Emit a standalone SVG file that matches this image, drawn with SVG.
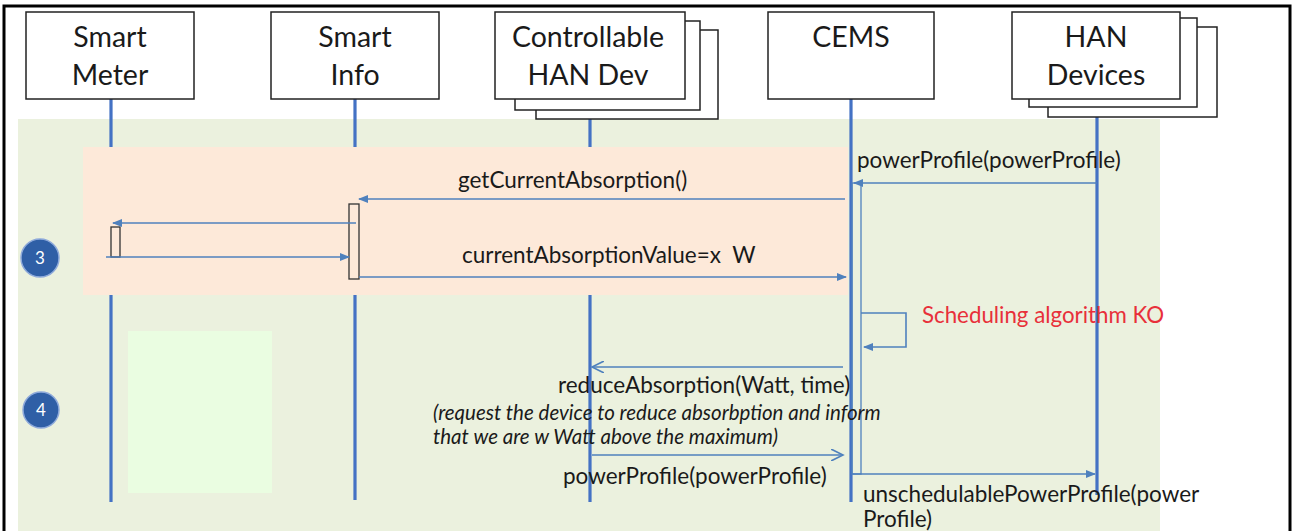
<svg xmlns="http://www.w3.org/2000/svg" width="1294" height="531" viewBox="0 0 1294 531">
<style>
.box{fill:#fff;stroke:#222;stroke-width:1.5}
.hd{font-family:Lato,"Open Sans",sans-serif;font-size:28.5px;fill:#1a1a1a;text-anchor:middle}
.life{stroke:#4472c4;stroke-width:3.2;fill:none}
.msg{stroke:#4f81bd;stroke-width:1.6;fill:none}
.lbl{font-family:Lato,"Open Sans",sans-serif;font-size:22.5px;fill:#1a1a1a}
.red{font-family:Lato,"Open Sans",sans-serif;font-size:22.3px;fill:#e8303a}
.it{font-family:Lato,"Open Sans",sans-serif;font-size:20.5px;font-style:italic;fill:#1a1a1a}
.act{fill:#fde9d9;stroke:#333;stroke-width:1.3}
.num{font-family:Lato,"Open Sans",sans-serif;font-size:17px;fill:#fff;text-anchor:middle}
.circ{fill:#2f5fa6;stroke:#8eaadb;stroke-width:1.5}
</style>
<defs>
<marker id="fa" markerUnits="userSpaceOnUse" markerWidth="10" markerHeight="8" refX="9" refY="4" orient="auto">
<path d="M0,0 L10,4 L0,8 z" fill="#4f81bd"/>
</marker>
<marker id="oa" markerUnits="userSpaceOnUse" markerWidth="14" markerHeight="12" refX="12" refY="6" orient="auto">
<path d="M0,0 L12,6 L0,12" fill="none" stroke="#4f81bd" stroke-width="1.6"/>
</marker>
</defs>
<rect x="0" y="0" width="1294" height="531" fill="#fff"/>
<rect x="18" y="119" width="1142" height="412" fill="#ebf1de"/>
<rect x="128" y="331" width="144" height="162" fill="#eafde1"/>
<path d="M4,531 V6 H1290 V531" fill="none" stroke="#000" stroke-width="3"/>

<g id="lifelines">
<line class="life" x1="111" y1="99" x2="111" y2="502"/>
<line class="life" x1="355" y1="99" x2="355" y2="500"/>
<line class="life" x1="590" y1="119" x2="590" y2="502"/>
<line class="life" x1="851" y1="99" x2="851" y2="502"/>
<line class="life" x1="1097" y1="107" x2="1097" y2="495"/>
</g>
<rect x="83" y="147" width="765" height="148" fill="#fde9d9"/>

<g id="smart-meter">
<rect class="box" x="26" y="12" width="168" height="87"/>
<text class="hd" x="110" y="47">Smart</text>
<text class="hd" x="110" y="85">Meter</text>
</g>
<g id="smart-info">
<rect class="box" x="271" y="12" width="168" height="87"/>
<text class="hd" x="355" y="47">Smart</text>
<text class="hd" x="355" y="85">Info</text>
</g>
<g id="controllable-han-dev">
<rect class="box" x="536" y="30" width="182" height="89"/>
<rect class="box" x="515" y="21" width="185" height="89"/>
<rect class="box" x="495" y="12" width="190" height="87"/>
<text class="hd" x="588" y="47">Controllable</text>
<text class="hd" x="588" y="85">HAN Dev</text>
</g>
<g id="cems">
<rect class="box" x="768" y="12" width="166" height="87"/>
<text class="hd" x="851" y="47">CEMS</text>
</g>
<g id="han-devices">
<rect class="box" x="1048" y="27" width="169" height="90"/>
<rect class="box" x="1029" y="18" width="168" height="89"/>
<rect class="box" x="1012" y="12" width="168" height="87"/>
<text class="hd" x="1096" y="47">HAN</text>
<text class="hd" x="1096" y="85">Devices</text>
</g>

<g id="step3">
<circle class="circ" cx="40" cy="258" r="19"/>
<text class="num" x="40" y="264">3</text>
</g>
<g id="step4">
<circle class="circ" cx="41" cy="410" r="18"/>
<text class="num" x="41" y="416">4</text>
</g>

<g id="activations">
<rect class="act" x="349" y="204" width="10" height="75"/>
<rect class="act" x="111" y="227" width="9" height="30"/>
<rect x="852" y="183" width="9" height="291" fill="none" stroke="#4f81bd" stroke-width="1.3"/>
</g>

<g id="connectors">
<line class="msg" x1="1097" y1="183" x2="854" y2="183" marker-end="url(#fa)"/>
<line class="msg" x1="845" y1="199" x2="359" y2="199" marker-end="url(#fa)"/>
<line class="msg" x1="356" y1="223" x2="113" y2="223" marker-end="url(#fa)"/>
<line class="msg" x1="106" y1="257" x2="349" y2="257" marker-end="url(#fa)"/>
<line class="msg" x1="359" y1="277" x2="846" y2="277" marker-end="url(#fa)"/>
<path class="msg" d="M861,313 H906 V347 H864" marker-end="url(#fa)"/>
<line class="msg" x1="843" y1="367" x2="592" y2="367" marker-end="url(#oa)"/>
<line class="msg" x1="592" y1="455" x2="843" y2="455" marker-end="url(#oa)"/>
<line class="msg" x1="852" y1="474" x2="1095" y2="474" marker-end="url(#fa)"/>
</g>

<g id="labels">
<text class="lbl" x="857" y="168">powerProfile(powerProfile)</text>
<text class="lbl" x="458" y="188">getCurrentAbsorption()</text>
<text class="lbl" x="462" y="263" xml:space="preserve">currentAbsorptionValue=x  W</text>
<text class="red" x="922" y="323">Scheduling algorithm KO</text>
<text class="lbl" x="558" y="393">reduceAbsorption(Watt, time)</text>
<text class="it" x="433" y="420">(request the device to reduce absorbption and inform</text>
<text class="it" x="433" y="444">that we are w Watt above the maximum)</text>
<text class="lbl" x="563" y="484">powerProfile(powerProfile)</text>
<text class="lbl" x="863" y="502">unschedulablePowerProfile(power</text>
<text class="lbl" x="863" y="527">Profile)</text>
</g>
</svg>
